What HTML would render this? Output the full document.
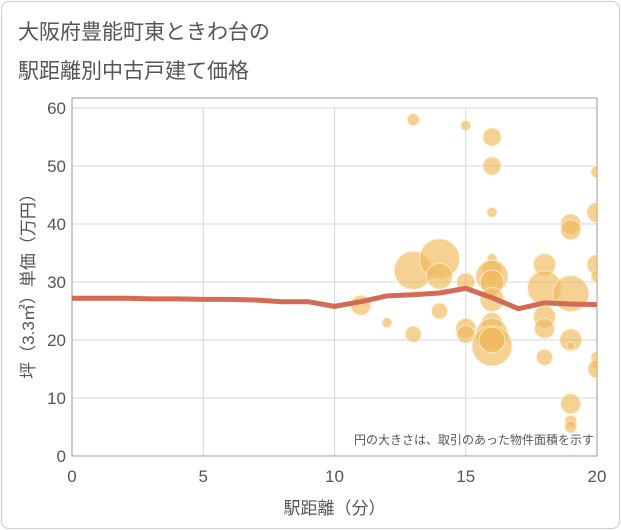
<!DOCTYPE html>
<html><head><meta charset="utf-8"><style>
body{margin:0;background:#fff;font-family:"Liberation Sans","Noto Sans CJK JP",sans-serif;}
#card{position:absolute;left:1px;top:1px;width:617px;height:526px;border:1px solid #ccc;border-radius:8px;}
.t{position:absolute;left:18px;font-size:21px;color:#555;}
</style></head><body>
<div id="card"></div>
<div class="t" style="top:16px">大阪府豊能町東ときわ台の</div>
<div class="t" style="top:55px">駅距離別中古戸建て価格</div>
<svg id="c" width="621" height="530" style="position:absolute;left:0;top:0"></svg>
<script>
const xTicks=[0,5,10,15,20];
const yTicks=[0,10,20,30,40,50,60];
const lineX=[0,1,2,3,4,5,6,7,8,9,10,11,12,13,14,15,16,17,18,19,20];
const lineY=[27.2,27.2,27.2,27.1,27.1,27.0,27.0,26.9,26.6,26.6,25.8,26.6,27.6,27.8,28.1,28.9,27.3,25.4,26.4,26.2,26.1];
const bubX=[10,11,12,13,13,13,14,14,14,15,15,15,15,16,16,16,16,16,16,16,16,16,16,16,16,16,18,18,18,18,18,19,19,19,19,19,19,19,19,20,20,20,20,20,20,20];
const bubY=[25,26,23,58,32,21,34,31,25,57,30,22,21,55,50,42,34,32,31,30,28,27,23,21,19,20,33,29,24,22,17,40,39,28,20,19,9,6,5,49,42,33,31,17,16,15];
const bubS=[1,10,5,6,19,8,20,13,8,5,9,10,9,9,9,5,5,10,16,12,5,12,10,16,20,13,11,17,11,10,8,10,10,18,11,4,10,6,6,6,10,10,6,6,6,9];
const svg=document.getElementById('c');const NS='http://www.w3.org/2000/svg';
const L=72,R=597,T=108,B=456;
const sx=v=>L+(v-0)/(20-0)*(R-L), sy=v=>B-(v-0)/(60-0)*(B-T);
function mk(t,a,p){const e=document.createElementNS(NS,t);for(const k in a)e.setAttribute(k,a[k]);(p||svg).appendChild(e);return e;}
const clip=mk('clipPath',{id:'pc'});mk('rect',{x:L,y:T-5,width:R-L,height:B-T+5},clip);
yTicks.forEach(v=>{const g=mk('line',{x1:L,x2:R,y1:sy(v),y2:sy(v),stroke:'#d0d8e2','stroke-width':1});

const t=mk('text',{x:L-6,y:sy(v)+6,'text-anchor':'end','font-size':17,fill:'#555'});t.textContent=v;
});
xTicks.forEach(v=>{const g=mk('line',{x1:sx(v),x2:sx(v),y1:T,y2:B,stroke:'#d0d8e2','stroke-width':1});

const t=mk('text',{x:sx(v),y:B+26,'text-anchor':'middle','font-size':17,fill:'#555'});t.textContent=v;
});
const fr=mk('rect',{x:L,y:T-10,width:R-L,height:B-T+10,fill:'none',stroke:'#999','stroke-width':1});

const bg=mk('g',{'clip-path':'url(#pc)'});
bubX.forEach((x,i)=>{const c=mk('circle',{cx:sx(x),cy:sy(bubY[i]),r:bubS[i],fill:'rgba(240,185,90,0.65)',stroke:'rgba(255,240,210,0.8)','stroke-width':1},bg);
});
const pl=mk('polyline',{points:lineX.map((x,i)=>sx(x)+','+sy(lineY[i])).join(' '),fill:'none',stroke:'#d36b55','stroke-width':5,'stroke-linejoin':'round'});

const an=mk('text',{x:R-3,y:B-12,'text-anchor':'end','font-size':12,fill:'#555'});an.textContent='円の大きさは、取引のあった物件面積を示す';

const xt=mk('text',{x:(L+R)/2,y:514,'text-anchor':'middle','font-size':17,fill:'#555'});xt.textContent='駅距離（分）';

const yt=mk('text',{x:0,y:0,'text-anchor':'middle','font-size':17,fill:'#555',transform:'translate(34,'+((T+B)/2)+') rotate(-90)'});yt.textContent='坪（3.3㎡）単価（万円）';

</script>
</body></html>
